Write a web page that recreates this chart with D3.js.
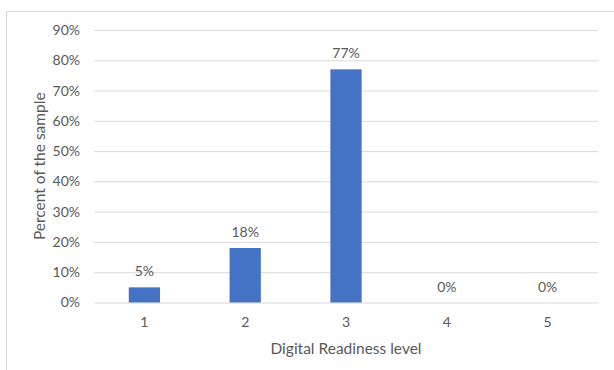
<!DOCTYPE html>
<html><head><meta charset="utf-8">
<script src="https://cdn.jsdelivr.net/npm/d3@7"></script>
<style>body{margin:0;background:#fff}svg{display:block}text{font-family:Lato,"Open Sans",sans-serif;fill:#595959}</style>
</head><body>
<svg id="c" width="614" height="370"></svg>
<script>
const categories = ["1","2","3","4","5"];
const values = [5, 18, 77, 0, 0];
const yTicks = [0,10,20,30,40,50,60,70,80,90];
const xTitle = "Digital Readiness level";
const yTitle = "Percent of the sample";

(function(){
const svg = d3.select("#c");
const mL = 94, mR = 598, mT = 30, mB = 302.5;
svg.append("rect").attr("x",6.5).attr("y",11.5).attr("width",640).attr("height",400)
  .attr("fill","none").attr("stroke","#d9d9d9").attr("stroke-width",1);

const x = d3.scaleBand().domain(categories).range([mL,mR]).paddingInner(0.69).paddingOuter(0.345);
const y = d3.scaleLinear().domain([0,90]).range([mB,mT]);

const ya = svg.append("g").attr("transform",`translate(${mL},0)`)
  .call(d3.axisLeft(y).tickValues(yTicks).tickFormat(d=>d+"%").tickSize(-(mR-mL)).tickPadding(14));
ya.select(".domain").remove();
ya.selectAll(".tick line").attr("stroke","#d9d9d9").attr("stroke-width",1);
ya.selectAll(".tick text").style("font-size","14px").style("fill","#595959");

const xa = svg.append("g").attr("transform",`translate(0,${mB})`)
  .call(d3.axisBottom(x).tickSize(0).tickPadding(15));
xa.select(".domain").remove();
xa.selectAll(".tick text").style("font-size","14px").style("fill","#595959");

svg.append("g").selectAll("rect").data(values).join("rect")
  .attr("x",(d,i)=>x(categories[i])).attr("width",x.bandwidth())
  .attr("y",d=>y(d)).attr("height",d=>y(0)-y(d)).attr("fill","#4472c4");

svg.append("g").selectAll("text").data(values).join("text")
  .attr("x",(d,i)=>x(categories[i])+x.bandwidth()/2).attr("y",d=>y(d)-11)
  .attr("text-anchor","middle").style("font-size","14px").text(d=>d+"%");

svg.append("text").attr("x",(mL+mR)/2).attr("y",354).attr("text-anchor","middle")
  .style("font-size","15.5px").text(xTitle);
svg.append("text").attr("transform",`translate(45,${(mT+mB)/2}) rotate(-90)`)
  .attr("text-anchor","middle").style("font-size","15.5px").text(yTitle);
})();
</script>
</body></html>
